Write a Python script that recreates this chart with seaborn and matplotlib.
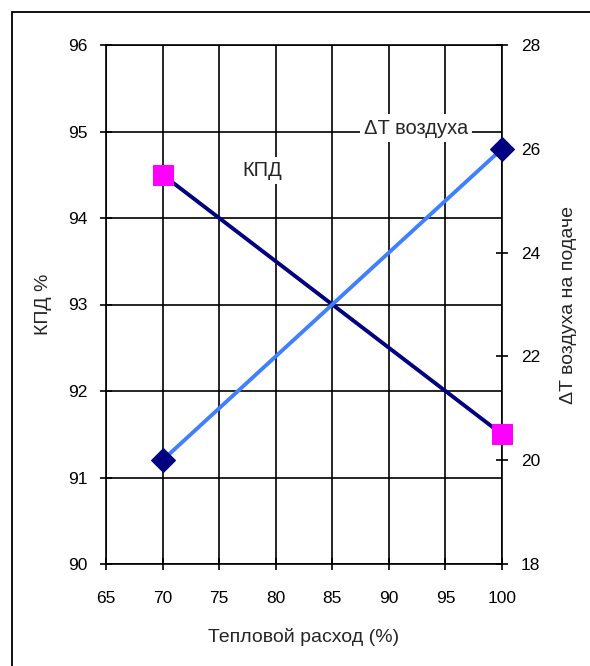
import numpy as np
import pandas as pd
import matplotlib
matplotlib.use("Agg")
import matplotlib.pyplot as plt
from matplotlib.lines import Line2D
import seaborn as sns

# ── Data ──────────────────────────────────────────────
heat_load = [70, 100]          # Тепловой расход (%)
kpd = [94.5, 91.5]             # КПД %
delta_t = [20, 26]             # ΔT воздуха на подаче

x_ticks = [65, 70, 75, 80, 85, 90, 95, 100]
kpd_ticks = [90, 91, 92, 93, 94, 95, 96]
dt_ticks = [18, 20, 22, 24, 26, 28]

sns.set_theme(style="white")
plt.rcParams["font.family"] = ["Liberation Sans Narrow", "Liberation Sans", "DejaVu Sans"]

fig = plt.figure(figsize=(5.9, 6.66), dpi=100)
ax = fig.add_axes([106 / 590, 1 - 564 / 666, 396 / 590, 519 / 666])

# outer frame (only top/left visible)
fig.add_artist(Line2D([12 / 590, 12 / 590], [0, 1 - 12 / 666], transform=fig.transFigure, color="black", lw=1.3))
fig.add_artist(Line2D([12 / 590, 1], [1 - 12 / 666, 1 - 12 / 666], transform=fig.transFigure, color="black", lw=1.3))

df = pd.DataFrame({"x": heat_load, "kpd": kpd, "dt": delta_t})

sns.lineplot(data=df, x="x", y="kpd", ax=ax, color="#000080", lw=2.8,
             marker="s", markersize=14, markerfacecolor="#ff00ff",
             markeredgecolor="#ff00ff", zorder=3, clip_on=False)

ax.set_xlim(65, 100)
ax.set_ylim(90, 96)
ax.set_xticks(x_ticks)
ax.set_yticks(kpd_ticks)
ax.grid(True, color="black", lw=1.2)
ax.set_axisbelow(True)
for s in ax.spines.values():
    s.set_color("black")
    s.set_linewidth(1.2)
ax.tick_params(axis="x", direction="inout", length=9, width=1.2, colors="black",
               labelsize=12.5, pad=15, bottom=True)
ax.tick_params(axis="y", direction="inout", length=9, width=1.2, colors="black",
               labelsize=12.5, pad=9, left=True)
ax.set_xlabel("Тепловой расход (%)", fontsize=14, labelpad=16)
ax.set_ylabel("КПД %", fontsize=14, labelpad=11)

ax2 = ax.twinx()
sns.lineplot(data=df, x="x", y="dt", ax=ax2, color="#4080ff", lw=2.8,
             marker="D", markersize=12, markerfacecolor="#000080",
             markeredgecolor="#000080", zorder=3, clip_on=False)
ax2.set_ylim(18, 28)
ax2.set_yticks(dt_ticks)
ax2.grid(False)
for s in ax2.spines.values():
    s.set_visible(False)
ax2.tick_params(axis="y", direction="inout", length=9, width=1.2, colors="black",
                labelsize=12.5, pad=9, right=True)
ax2.set_ylabel("ΔT воздуха на подаче", fontsize=14, labelpad=14)

ax.text(78.8, 94.55, "КПД", fontsize=14.5, ha="center", va="center",
        bbox=dict(facecolor="white", edgecolor="none", pad=3), zorder=2)
ax.text(92.4, 95.04, "ΔT воздуха", fontsize=14.5, ha="center", va="center",
        bbox=dict(facecolor="white", edgecolor="none", pad=3), zorder=2)

fig.savefig("out.png", dpi=100)
